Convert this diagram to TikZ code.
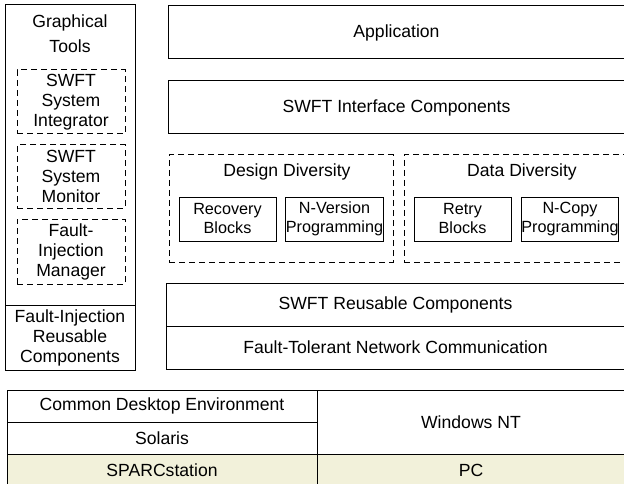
\documentclass[tikz,border=0pt]{standalone}
\usepackage{fontspec}
\setmainfont{Liberation Sans}
\usepackage{xcolor}
\usepackage{tikz}
\definecolor{hwfill}{RGB}{242,241,218}
\newcommand{\mainsize}{\fontsize{17.6}{20}\selectfont}
\newcommand{\techsize}{\fontsize{16.2}{19}\selectfont}
\tikzset{
	layer/.style={draw, rectangle, line width=1pt, inner sep=0pt, align=center, font=\mainsize},
	group/.style={layer, dash pattern=on 6pt off 4pt},
	technique/.style={layer, font=\techsize},
	plaintext/.style={inner sep=0pt, align=center, font=\mainsize}
}

\begin{document}
\begin{tikzpicture}[x=1pt, y=-1pt]
			\useasboundingbox (0,0) rectangle (624,484);

			% left column: tools
			\node [layer, minimum width=130pt, minimum height=300pt] (tools) at (70,155) {};
			\node [layer, minimum width=130pt, minimum height=65pt] (fireuse) at (70,337.5)
				{Fault-Injection\\Reusable\\Components};
			\node [plaintext] (toolstitle) at (70,34) {Graphical\\[5pt]Tools};
			\node [group, minimum width=108pt, minimum height=64pt] (integrator) at (71,102)
				{SWFT\\System\\Integrator};
			\node [group, minimum width=108pt, minimum height=63pt] (monitor) at (71,176.5)
				{SWFT\\System\\Monitor};
			\node [group, minimum width=108pt, minimum height=65pt] (manager) at (71,251.5)
				{Fault-\\Injection\\Manager};

			% right column: layers
			\node [layer, minimum width=457pt, minimum height=53pt] (app) at (396.5,32.5) {Application};
			\node [layer, minimum width=457pt, minimum height=53pt] (iface) at (396.5,107.5)
				{SWFT Interface Components};

			\node [group, minimum width=224pt, minimum height=107pt] (design) at (281,208.5) {};
			\node [plaintext] (designtitle) at (287,172) {Design Diversity};
			\node [technique, minimum width=97pt, minimum height=44pt] (recovery) at (227.5,219)
				{Recovery\\Blocks};
			\node [technique, minimum width=97pt, minimum height=44pt] (nversion) at (334.5,219)
				{N-Version\\Programming};

			\node [group, minimum width=224pt, minimum height=107pt] (data) at (516,208.5) {};
			\node [plaintext] (datatitle) at (522,172) {Data Diversity};
			\node [technique, minimum width=97pt, minimum height=44pt] (retry) at (462.5,219)
				{Retry\\Blocks};
			\node [technique, minimum width=96pt, minimum height=44pt] (ncopy) at (570,219)
				{N-Copy\\Programming};

			\node [layer, minimum width=459pt, minimum height=43pt] (reuse) at (395.5,304.5)
				{SWFT Reusable Components};
			\node [layer, minimum width=459pt, minimum height=43pt] (network) at (395.5,347.5)
				{Fault-Tolerant Network Communication};

			% platform table
			\node [layer, minimum width=310pt, minimum height=32pt] (cde) at (162,406)
				{Common Desktop Environment};
			\node [layer, minimum width=310pt, minimum height=32pt] (solaris) at (162,438) {Solaris};
			\node [layer, minimum width=308pt, minimum height=64pt] (winnt) at (471,422) {Windows NT};
			\node [layer, fill=hwfill, minimum width=310pt, minimum height=32pt] (sparc) at (162,470)
				{SPARCstation};
			\node [layer, fill=hwfill, minimum width=308pt, minimum height=32pt] (pc) at (471,470) {PC};
		\end{tikzpicture}
\end{document}
